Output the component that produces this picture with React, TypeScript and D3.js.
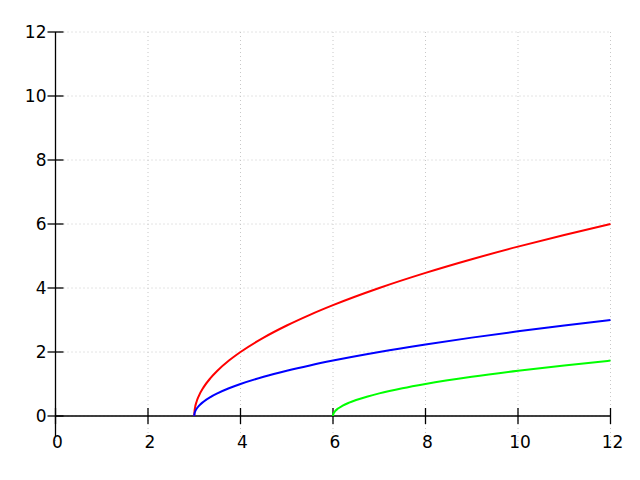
import React from "react";
import * as d3 from "d3";

const xTicks = [0, 2, 4, 6, 8, 10, 12];
const yTicks = [0, 2, 4, 6, 8, 10, 12];

const xA = [3, 3.005, 3.02, 3.05, 3.1, 3.2, 3.35, 3.5, 3.75, 4, 4.5, 5, 5.5, 6, 7, 8, 9, 10, 11, 12];
const redY = [0, 0.141, 0.283, 0.447, 0.632, 0.894, 1.183, 1.414, 1.732, 2, 2.449, 2.828, 3.162, 3.464, 4, 4.472, 4.899, 5.292, 5.657, 6];
const blueY = [0, 0.071, 0.141, 0.224, 0.316, 0.447, 0.592, 0.707, 0.866, 1, 1.225, 1.414, 1.581, 1.732, 2, 2.236, 2.449, 2.646, 2.828, 3];

const xG = [6, 6.005, 6.02, 6.05, 6.1, 6.2, 6.35, 6.5, 6.75, 7, 7.5, 8, 9, 10, 11, 12];
const greenY = [0, 0.05, 0.1, 0.158, 0.224, 0.316, 0.418, 0.5, 0.612, 0.707, 0.866, 1, 1.225, 1.414, 1.581, 1.732];

const series = [
  { xs: xA, ys: redY, color: "#ff0000" },
  { xs: xA, ys: blueY, color: "#0000ff" },
  { xs: xG, ys: greenY, color: "#00ff00" },
];

export default function App() {
  const x = d3.scaleLinear().domain([0, 12]).range([55.5, 610.5]);
  const y = d3.scaleLinear().domain([0, 12]).range([416, 32]);
  const line = d3
    .line<[number, number]>()
    .x((d) => x(d[0]))
    .y((d) => y(d[1]))
    .curve(d3.curveMonotoneX);
  const font = "DejaVu Sans, sans-serif";
  return (
    <svg
      width={640}
      height={480}
      style={{ position: "absolute", left: 0, top: 0, display: "block", background: "#fff" }}
    >
      <rect width={640} height={480} fill="#fff" />
      {/* grid */}
      {xTicks.map((t) => (
        <line
          key={"gx" + t}
          x1={x(t)}
          x2={x(t)}
          y1={y(12)}
          y2={y(0) + 32}
          stroke="#c8c8c8"
          strokeWidth={1}
          strokeDasharray="1,3"
        />
      ))}
      {yTicks.map((t) => (
        <line
          key={"gy" + t}
          x1={x(0)}
          x2={x(12)}
          y1={y(t)}
          y2={y(t)}
          stroke="#c8c8c8"
          strokeWidth={1}
          strokeDasharray="1,3"
        />
      ))}
      {/* axes */}
      <line x1={x(0)} x2={x(12)} y1={y(0)} y2={y(0)} stroke="#000" strokeWidth={1.3} />
      <line x1={x(0)} x2={x(0)} y1={y(12)} y2={y(0) + 20} stroke="#000" strokeWidth={1.3} />
      {xTicks.map((t) => (
        <g key={"xt" + t}>
          <line x1={x(t)} x2={x(t)} y1={y(0) - 8} y2={y(0) + 8} stroke="#000" strokeWidth={1.3} />
          <text x={x(t) + 2} y={y(0) + 32} textAnchor="middle" fontFamily={font} fontSize={17} fill="#000">
            {t}
          </text>
        </g>
      ))}
      {yTicks.map((t) => (
        <g key={"yt" + t}>
          <line x1={x(0) - 8} x2={x(0) + 8} y1={y(t)} y2={y(t)} stroke="#000" strokeWidth={1.3} />
          <text x={x(0) - 9} y={y(t) + 6} textAnchor="end" fontFamily={font} fontSize={17} fill="#000">
            {t}
          </text>
        </g>
      ))}
      {/* curves */}
      {series.map((s, i) => (
        <path
          key={"s" + i}
          d={line(s.xs.map((v, j) => [v, s.ys[j]] as [number, number])) || ""}
          fill="none"
          stroke={s.color}
          strokeWidth={2}
        />
      ))}
    </svg>
  );
}
